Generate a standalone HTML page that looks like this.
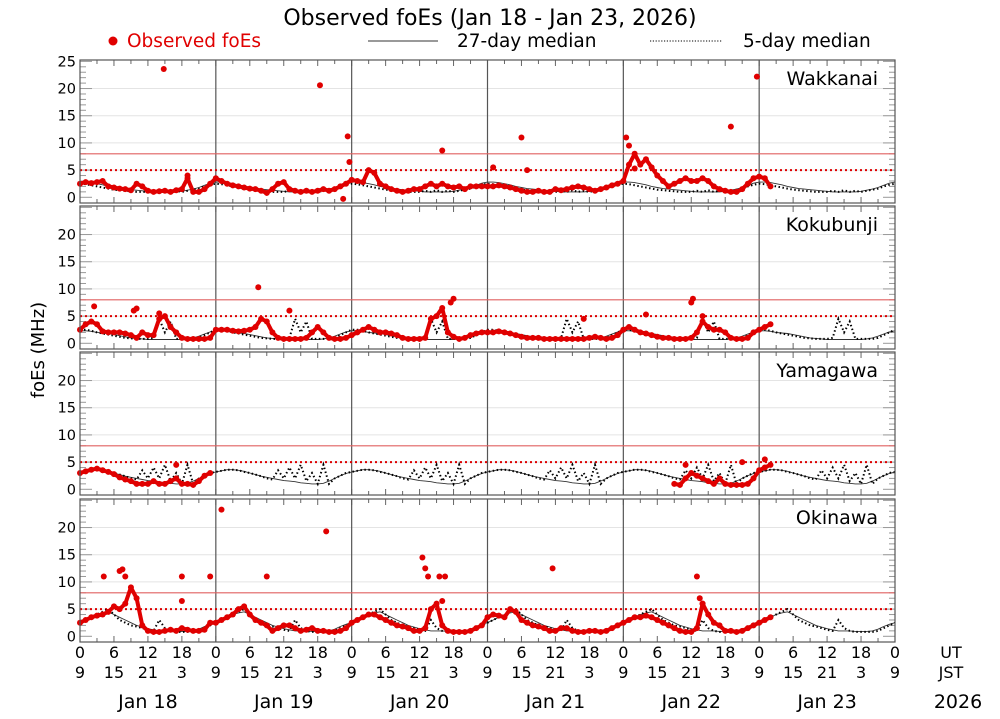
<!DOCTYPE html>
<html><head><meta charset="utf-8"><style>
body{margin:0;background:#fff;}
svg text{font-family:"DejaVu Sans","Liberation Sans",sans-serif;}
</style></head><body>
<svg id="chart" width="1000" height="714" viewBox="0 0 1000 714" xmlns="http://www.w3.org/2000/svg">
<text x="490" y="25" font-size="22" text-anchor="middle">Observed foEs (Jan 18 - Jan 23, 2026)</text>
<g>
<circle cx="113" cy="41" r="4.5" fill="#e00000"/>
<text x="127" y="47" font-size="18.5" fill="#e00000">Observed foEs</text>
<line x1="368" y1="41" x2="438" y2="41" stroke="#333" stroke-width="1"/>
<text x="457" y="47" font-size="18.5">27-day median</text>
<line x1="650" y1="41" x2="722" y2="41" stroke="#000" stroke-width="1" stroke-dasharray="1.2,1.6"/>
<text x="743" y="47" font-size="18.5">5-day median</text>
</g>
<text x="0" y="0" font-size="18" text-anchor="middle" transform="translate(44,350) rotate(-90)">foEs (MHz)</text>
<g id="panels"></g>
<g id="xaxis"></g>
</svg>
<script>
const stations = ["Wakkanai","Kokubunji","Yamagawa","Okinawa"];
const days = ["Jan 18","Jan 19","Jan 20","Jan 21","Jan 22","Jan 23"];
const yTicks = [0,5,10,15,20,25];
const utLabels = ["0","6","12","18"];
const jstLabels = ["9","15","21","3"];
const limitSolid = 8, limitDotted = 5;
const N = null;

const obsWakkanai = [2.5,2.8,2.6,2.8,3,2,1.8,1.6,1.5,1.3,2.5,2,1.2,1,1.1,1.2,1,1.3,1.5,3.5,1,1,1.5,2.5,
 3.5,3,2.5,2.2,2,1.8,1.6,1.5,1.2,0.8,1.5,2.5,2.8,1.5,1.2,1,1.2,1,1.2,1.5,1.2,1.5,2,2.5,
 3.2,3,2.8,5,4.5,2.5,2,1.5,1.2,1,1.2,1.5,1.5,2,2.5,2,2.5,2,1.8,2,1.5,2,2,2,
 2,2,2.2,2,1.8,1.5,1.2,1,1,1.2,1,1,1.5,1.3,1.5,1.8,2,1.8,1.5,1.2,1.5,1.8,2.2,2.5,
 3,6,8,6,7,5.5,4,3,2,2.5,3,3.5,3,3,3.5,3,2,1.5,1.2,1,1,1.5,2.5,3.5,
 3.8,3.5,2];
const outWakkanai = [[14.8,23.6],[19,4],[42.4,20.6],[47.3,11.2],[47.6,6.5],[46.5,-0.3],[64,8.6],[73,5.5],[78,11],[79,5],[96.5,11],[97,9.5],[115,13],[119.6,22.2],[98,5.3]];
const obsKokubunji = [2.5,3.5,4,3.5,2.2,2,2,2,1.8,1.5,1,2,1.5,1.5,4.5,5,3,2,1,0.8,0.8,0.8,0.8,1,
 2.5,2.5,2.5,2.3,2.2,2.3,2.5,3,4.5,4,2,1,0.8,0.8,0.8,0.8,1,2,3,2,1,0.8,0.8,1,
 1.5,2,2.5,3,2.5,2,2,1.8,1.5,1,0.8,0.8,0.8,1,4.5,5,6.5,2,1.2,0.8,1,1.5,1.8,2,
 2,2,2.2,2,1.8,1.5,1.2,1,1,1,0.8,0.8,0.8,0.8,0.8,0.8,0.8,0.8,1,1.2,1,0.8,1,1.5,
 2.5,3,2.5,2,1.8,1.5,1.2,1,1,0.8,0.8,0.8,1,2,4,3,2.5,2.5,2,1,0.8,0.8,1,2,
 2.5,3,3.5];
const outKokubunji = [[2.5,6.8],[9.5,6],[10,6.4],[14,5.5],[31.5,10.3],[37,6],[65.5,7.5],[66,8.2],[89,4.5],[100,5.3],[108,7.5],[108.3,8.2],[110,5]];
const obsYamagawa = [3,3.3,3.6,3.8,3.5,3.2,2.8,2.2,1.8,1.5,1,1,1,1.5,1,1,1.5,2,1,1,0.8,1.5,2.5,3,
 N,N,N,N,N,N,N,N,N,N,N,N,N,N,N,N,N,N,N,N,N,N,N,N,
 N,N,N,N,N,N,N,N,N,N,N,N,N,N,N,N,N,N,N,N,N,N,N,N,
 N,N,N,N,N,N,N,N,N,N,N,N,N,N,N,N,N,N,N,N,N,N,N,N,
 N,N,N,N,N,N,N,N,N,1,0.8,2,3,2.5,2,1.5,1,2,1,0.8,0.8,0.8,1,2,
 3.5,4,4.5];
const outYamagawa = [[17,4.5],[107,4.5],[117,5],[121,5.5]];
const obsOkinawa = [2.5,3,3.5,3.8,4,4.5,5.5,5,6,9,7,2,1,0.8,0.8,1,1.2,1,1.5,1.2,1,1,1.2,2.5,
 2.5,3,3.5,4,5,5.5,4,3,2.5,2,1,1.5,2,2,1.5,1,1.2,1.5,1,1,0.8,0.8,1,1.5,
 2.5,3,3.5,4,4,3.5,3,2.5,2,1.8,1.5,1,1,1.5,5,6,2,1,0.8,0.8,0.8,1,1.5,2,
 3.5,4,3.8,3.5,5,4.5,3,2.5,2,1.8,1.5,1,1,1.5,1.5,1,0.8,0.8,1,1,0.8,1,1.5,2,
 2.5,3,3.5,3.5,3.8,3.5,3,2.5,2,1.5,1,0.8,0.8,1.5,6,4,2.5,2,1,1,0.8,1,1.5,2,
 2.5,3,3.5];
const outOkinawa = [[4.2,11],[7,12],[7.5,12.3],[8,11],[18,11],[23,11],[18,6.5],[25,23.3],[33,11],[43.5,19.3],[60.5,14.5],[61,12.5],[61.5,11],[63.5,11],[64.5,11],[64,6.5],[83.5,12.5],[109,11],[109.5,7],[110,6]];

const med27Wakkanai = [2.8,2.8,2.7,2.5,2.3,2,1.8,1.6,1.5,1.4,1.3,1.2,1.1,1,1,1,1,1,1.1,1.3,1.5,1.8,2.2,2.6];
const med5Wakkanai = [2.5,2.4,2.2,2,1.8,1.6,1.4,1.3,1.2,1.1,1,1,1,1.2,1,1.3,1,1.2,1,1.2,1.4,1.6,2,2.3];
const med27Kokubunji = [2.3,2.3,2.2,2,1.9,1.8,1.6,1.4,1.2,1,0.9,0.8,0.7,0.7,0.7,0.7,0.7,0.7,0.7,0.8,1,1.3,1.7,2.1];
const med5Kokubunji = [2.5,2.5,2.3,2,1.8,1.6,1.4,1.2,1,0.9,0.8,0.8,0.8,1,4.5,2,4,0.8,0.8,0.8,0.8,1,1.5,2];
const med27Yamagawa = [3.2,3.4,3.6,3.6,3.5,3.3,3,2.7,2.4,2.2,2,1.8,1.6,1.5,1.4,1.2,1.1,1,1,1.1,1.5,2,2.5,2.9];
const med5Yamagawa = [3.2,3.4,3.6,3.6,3.5,3.2,3,2.7,2.4,2,1.8,3.5,2,4,2,4.5,1.5,3,1,4.5,1,2,2.5,3];
const med27Okinawa = [2.5,3,3.5,4,4.3,4.5,4,3.5,3,2.5,2,1.7,1.4,1.2,1,1,1,0.9,0.9,0.9,1,1.3,1.8,2.2];
const med5Okinawa = [2.5,3,3.5,4,4.5,5,4,3,2.5,2,1.8,1.5,1.2,1,3,1.5,1,0.8,0.8,0.8,0.8,1,1.5,2];

const OBS = [obsWakkanai,obsKokubunji,obsYamagawa,obsOkinawa];
const OUT = [outWakkanai,outKokubunji,outYamagawa,outOkinawa];
const M27 = [med27Wakkanai,med27Kokubunji,med27Yamagawa,med27Okinawa];
const M5 = [med5Wakkanai,med5Kokubunji,med5Yamagawa,med5Okinawa];

const NS="http://www.w3.org/2000/svg";
const X0=80, X1=895, TOTAL=144, tops=[60,206,352,499], PH=143, VMAX=25.25, VMIN=-1.05;
const xS = h => X0 + h*(X1-X0)/TOTAL;
const yS = (p,v) => tops[p] + (VMAX-v)*PH/(VMAX-VMIN);
function mk(tag, attrs, parent){const e=document.createElementNS(NS,tag);for(const k in attrs)e.setAttribute(k,attrs[k]);parent.appendChild(e);return e;}
const root=document.getElementById('panels');

stations.forEach((name,p)=>{
  const g=mk('g',{},root);
  
  
  const top=tops[p];
  [5,10,15,20].forEach(v=>{
    const l=mk('line',{x1:X0,x2:X1,y1:yS(p,v),y2:yS(p,v),stroke:'#e4e4e4','stroke-width':1},g);
    
    
  });
  for(let v=0;v<=25;v++){
    if(yS(p,v)<top+1) continue;
    const len = v%5===0?12:6;
    mk('line',{x1:X0,x2:X0+len,y1:yS(p,v),y2:yS(p,v),stroke:'#999','stroke-width':1},g);
    mk('line',{x1:X1-len,x2:X1,y1:yS(p,v),y2:yS(p,v),stroke:'#999','stroke-width':1},g);
  }
  for(let h=3;h<TOTAL;h+=3){
    const len = h%6===0?6:4;
    mk('line',{x1:xS(h),x2:xS(h),y1:top,y2:top+len,stroke:'#666','stroke-width':1},g);
    mk('line',{x1:xS(h),x2:xS(h),y1:top+PH,y2:top+PH-len,stroke:'#666','stroke-width':1},g);
  }
  for(let d=1;d<6;d++){
    const l=mk('line',{x1:xS(d*24),x2:xS(d*24),y1:top,y2:top+PH,stroke:'#555','stroke-width':1.2},g);
    
    
  }
  const t1=mk('line',{x1:X0,x2:X1,y1:yS(p,limitSolid),y2:yS(p,limitSolid),stroke:'#e06060','stroke-width':1.2},g);
  
  
  const t2=mk('line',{x1:X0,x2:X1,y1:yS(p,limitDotted),y2:yS(p,limitDotted),stroke:'#dd0000','stroke-width':2,'stroke-dasharray':'2,3'},g);
  
  
  yTicks.forEach(v=>{
    if(v===25 && p>0) return;
    const t=mk('text',{x:76,y:yS(p,v)+5,'font-size':14.5,'text-anchor':'end'},g);
    t.textContent=v;
    
    
  });
  let d27='';
  for(let h=0;h<=TOTAL;h++){const v=M27[p][h%24];d27+=(h?'L':'M')+xS(h).toFixed(1)+','+yS(p,v).toFixed(1);}
  const l27=mk('path',{d:d27,fill:'none',stroke:'#333','stroke-width':0.9},g);
  
  
  let d5='';
  for(let h=0;h<=TOTAL;h++){const v=M5[p][h%24];d5+=(h?'L':'M')+xS(h).toFixed(1)+','+yS(p,v).toFixed(1);}
  const l5=mk('path',{d:d5,fill:'none',stroke:'#000','stroke-width':2,'stroke-dasharray':'1.5,2.5'},g);
  
  
  const obs=OBS[p];
  let dob='',pen=false;
  obs.forEach((v,h)=>{ if(v===null){pen=false;return;} dob+=(pen?'L':'M')+xS(h).toFixed(1)+','+yS(p,v).toFixed(1); pen=true; });
  const lo=mk('path',{d:dob,fill:'none',stroke:'#e00000','stroke-width':4,'stroke-linecap':'round','stroke-linejoin':'round'},g);
  
  
  obs.forEach((v,h)=>{ if(v===null) return;
    const c=mk('circle',{cx:xS(h),cy:yS(p,v),r:3,fill:'#e00000'},g);
    
    
  });
  OUT[p].forEach(([h,v])=>{
    const c=mk('circle',{cx:xS(h),cy:yS(p,v),r:3,fill:'#e00000'},g);
    
    
  });
  const fr=mk('rect',{x:X0,y:top,width:X1-X0,height:PH,fill:'none',stroke:'#555','stroke-width':1.2},g);
  
  
  const st=mk('text',{x:878,y:top+25,'font-size':19,'text-anchor':'end'},g);
  st.textContent=name;
  
  
});

const xa=document.getElementById('xaxis');
for(let h=0;h<=TOTAL;h+=6){
  const i=(h/6)%4;
  const a=mk('text',{x:xS(h),y:658,'font-size':16,'text-anchor':'middle'},xa);
  a.textContent=utLabels[i];
  
  
  const b=mk('text',{x:xS(h),y:678,'font-size':16,'text-anchor':'middle'},xa);
  b.textContent=jstLabels[i];
  
  
}
days.forEach((d,i)=>{
  const t=mk('text',{x:xS(i*24+12),y:708,'font-size':19,'text-anchor':'middle'},xa);
  t.textContent=d;
  
  
});
[['UT',658,'ut-label'],['JST',678,'jst-label']].forEach(([s,y,n])=>{
  const t=mk('text',{x:951,y:y,'font-size':16,'text-anchor':'middle'},xa);
  t.textContent=s;
  
  
});
const yr=mk('text',{x:958,y:708,'font-size':19,'text-anchor':'middle'},xa);
yr.textContent='2026';


</script>
</body></html>
